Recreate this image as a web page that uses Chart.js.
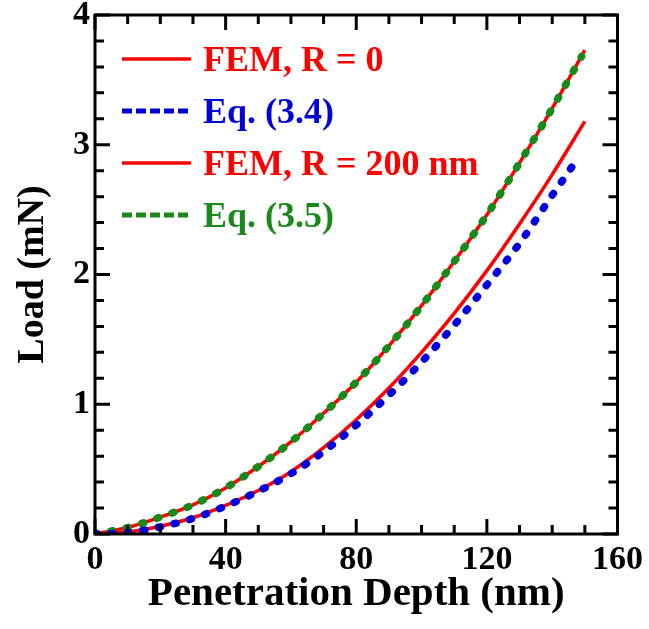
<!DOCTYPE html>
<html>
<head>
<meta charset="utf-8">
<script src="https://cdn.jsdelivr.net/npm/chart.js@4.4.1/dist/chart.umd.min.js"></script>
<style>
  body { margin: 0; background: #fff; }
</style>
</head>
<body>
<canvas id="loadChart" width="649" height="629"></canvas>

<script>
  // values
  const depthFEM = [0, 10, 20, 30, 40, 50, 60, 70, 80, 90, 100, 110, 120, 130, 140, 150];
  const loadFEM0 = [0, 0.05, 0.13, 0.225, 0.355, 0.52, 0.71, 0.93, 1.17, 1.45, 1.76, 2.10, 2.46, 2.86, 3.28, 3.73];
  const loadFEM200 = [0, 0.015, 0.06, 0.125, 0.22, 0.335, 0.48, 0.665, 0.88, 1.125, 1.40, 1.70, 2.03, 2.39, 2.77, 3.18];
  const depthEq34 = [0, 10, 20, 30, 40, 50, 60, 70, 80, 90, 100, 110, 120, 130, 140, 148];
  const loadEq34 = [0, 0.01, 0.055, 0.12, 0.215, 0.33, 0.465, 0.635, 0.84, 1.07, 1.325, 1.61, 1.92, 2.24, 2.61, 2.90];
  const depthEq35 = [0, 10, 20, 30, 40, 50, 60, 70, 80, 90, 100, 110, 120, 130, 140, 149];
  const loadEq35 = [0, 0.05, 0.13, 0.225, 0.355, 0.52, 0.71, 0.93, 1.17, 1.45, 1.76, 2.10, 2.46, 2.86, 3.28, 3.68];

  const seriesNames = ['FEM, R = 0', 'Eq. (3.4)', 'FEM, R = 200 nm', 'Eq. (3.5)'];
  const xTicks = [0, 40, 80, 120, 160];
  const yTicks = [0, 1, 2, 3, 4];

  const RED = '#ff0000';
  const BLUE = '#0000dd';
  const GREEN = '#198a19';
  const FONT = "'Liberation Serif', 'Times New Roman', serif";

  function pts(xs, ys) {
    return xs.map((x, i) => ({ x: x, y: ys[i] }));
  }

  const solid = { borderWidth: 3.5, pointRadius: 0, cubicInterpolationMode: 'monotone', order: 2 };
  const dotted = { borderWidth: 7.5, borderDash: [2, 14], borderCapStyle: 'round', pointRadius: 0, cubicInterpolationMode: 'monotone', order: 1 };

  // legend drawn inside the plot, solid line or dashes + coloured text
  const insideLegend = {
    id: 'insideLegend',
    afterDraw(chart) {
      const { ctx, chartArea: a } = chart;
      ctx.save();
      ctx.font = 'bold 36px ' + FONT;
      ctx.textBaseline = 'alphabetic';
      chart.data.datasets.forEach((ds, i) => {
        const base = a.top + 56 + i * 52;
        const ly = base - 12;
        ctx.strokeStyle = ds.borderColor;
        if (ds.borderDash) {
          ctx.lineWidth = 5;
          ctx.setLineDash([10, 4]);
        } else {
          ctx.lineWidth = 3.5;
          ctx.setLineDash([]);
        }
        ctx.beginPath();
        ctx.moveTo(a.left + 27, ly);
        ctx.lineTo(a.left + 96, ly);
        ctx.stroke();
        ctx.fillStyle = ds.borderColor;
        ctx.fillText(ds.label, a.left + 108, base);
      });
      ctx.restore();
    }
  };

  // box round the plot with inward ticks on all four sides
  const frame = {
    id: 'frame',
    afterDatasetsDraw(chart) {
      const { ctx, chartArea: a, scales: { x, y } } = chart;
      ctx.save();
      ctx.strokeStyle = '#000';
      ctx.lineWidth = 3;
      ctx.setLineDash([]);
      ctx.strokeRect(a.left, a.top, a.right - a.left, a.bottom - a.top);
      ctx.beginPath();
      for (let v = 0; v <= 160; v += 10) {
        const len = v % 40 === 0 ? 15 : 9;
        const px = x.getPixelForValue(v);
        ctx.moveTo(px, a.bottom); ctx.lineTo(px, a.bottom - len);
        ctx.moveTo(px, a.top); ctx.lineTo(px, a.top + len);
      }
      for (let k = 0; k <= 20; k++) {
        const len = k % 5 === 0 ? 15 : 9;
        const py = y.getPixelForValue(k / 5);
        ctx.moveTo(a.left, py); ctx.lineTo(a.left + len, py);
        ctx.moveTo(a.right, py); ctx.lineTo(a.right - len, py);
      }
      ctx.stroke();
      ctx.restore();
    }
  };

  const ctx = document.getElementById('loadChart');
  const myChart = new Chart(ctx, {
    type: 'line',
    data: {
      datasets: [
        Object.assign({ label: seriesNames[0], data: pts(depthFEM, loadFEM0), borderColor: RED }, solid),
        Object.assign({ label: seriesNames[1], data: pts(depthEq34, loadEq34), borderColor: BLUE }, dotted),
        Object.assign({ label: seriesNames[2], data: pts(depthFEM, loadFEM200), borderColor: RED }, solid),
        Object.assign({ label: seriesNames[3], data: pts(depthEq35, loadEq35), borderColor: GREEN }, dotted)
      ]
    },
    options: {
      responsive: false,
      animation: false,
      devicePixelRatio: 1,
      layout: { padding: { top: 15, right: 30, bottom: 0, left: 0 } },
      plugins: {
        legend: { display: false },
        tooltip: { enabled: false }
      },
      scales: {
        x: {
          type: 'linear',
          min: 0,
          max: 160,
          grid: { display: false, drawTicks: false },
          border: { display: false },
          ticks: { color: '#000', padding: 6, font: { family: FONT, size: 34, weight: 'bold' } },
          afterBuildTicks: s => { s.ticks = xTicks.map(v => ({ value: v })); },
          afterFit: s => { s.height = 95; },
          title: {
            display: true,
            text: 'Penetration Depth (nm)',
            color: '#000',
            padding: { top: 0, bottom: 10 },
            font: { family: FONT, size: 41, weight: 'bold' }
          }
        },
        y: {
          type: 'linear',
          min: 0,
          max: 4,
          grid: { display: false, drawTicks: false },
          border: { display: false },
          ticks: { color: '#000', padding: 5, font: { family: FONT, size: 34, weight: 'bold' } },
          afterBuildTicks: s => { s.ticks = yTicks.map(v => ({ value: v })); },
          afterFit: s => { s.width = 95; s.paddingTop = 0; s.paddingBottom = 0; },
          title: {
            display: true,
            text: 'Load (mN)',
            color: '#000',
            padding: { top: 10, bottom: 0 },
            font: { family: FONT, size: 38, weight: 'bold' }
          }
        }
      }
    },
    plugins: [frame, insideLegend]
  });
</script>
</body>
</html>
